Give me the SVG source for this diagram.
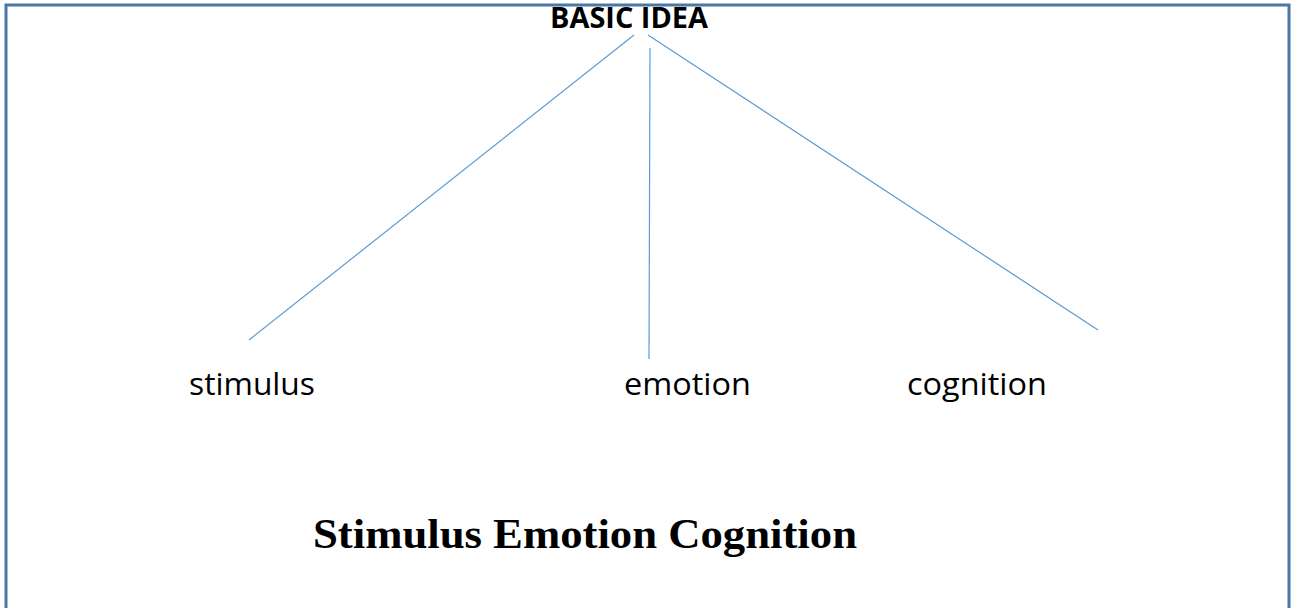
<svg xmlns="http://www.w3.org/2000/svg" width="1295" height="608" viewBox="0 0 1295 608">
  <style>
    .frame { fill: none; stroke: #4a77a7; stroke-width: 3; }
    .link { stroke: #5b9bd5; stroke-width: 1.2; fill: none; }
    .root { font-family: "Open Sans", "Liberation Sans", sans-serif; font-weight: bold; font-size: 28px; fill: #000; }
    .leaf { font-family: "Open Sans", "Liberation Sans", sans-serif; font-size: 31px; fill: #000; }
    .caption { font-family: "Liberation Serif", serif; font-weight: bold; font-size: 43px; fill: #000; }
  </style>
  <rect width="1295" height="608" fill="#fff"/>

  <g id="connectors">
    <line class="link" x1="634" y1="35" x2="249" y2="340"/>
    <line class="link" x1="650" y1="48" x2="649" y2="359"/>
    <line class="link" x1="648" y1="35" x2="1098" y2="330"/>
  </g>

  <g id="basic-idea">
    <text class="root" x="550" y="28" textLength="158" lengthAdjust="spacingAndGlyphs">BASIC IDEA</text>
  </g>
  <g id="stimulus">
    <text class="leaf" x="189" y="395" textLength="126" lengthAdjust="spacingAndGlyphs">stimulus</text>
  </g>
  <g id="emotion">
    <text class="leaf" x="624" y="395" textLength="127" lengthAdjust="spacingAndGlyphs">emotion</text>
  </g>
  <g id="cognition">
    <text class="leaf" x="907" y="395" textLength="140" lengthAdjust="spacingAndGlyphs">cognition</text>
  </g>
  <g id="caption">
    <text class="caption" x="313" y="548" textLength="544" lengthAdjust="spacingAndGlyphs">Stimulus Emotion Cognition</text>
  </g>

  <!-- outer frame, open at the bottom, drawn on top -->
  <path class="frame" d="M6,608 V5 H1289 V608"/>
</svg>
